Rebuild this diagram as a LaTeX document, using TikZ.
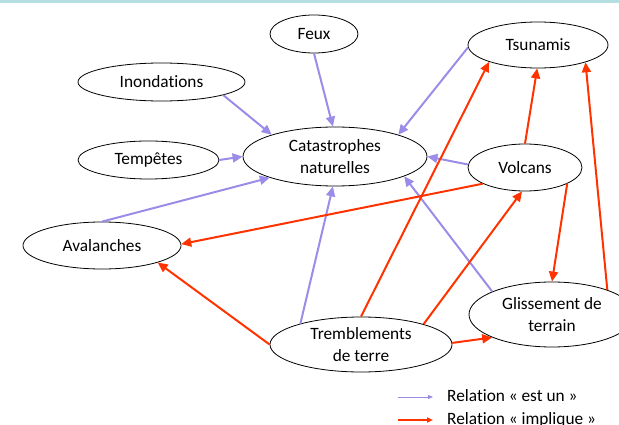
\documentclass[tikz,border=0pt]{standalone}
\usepackage{fontspec}
\setmainfont{Carlito}[Ligatures={NoCommon,NoContextual}]
\usetikzlibrary{shapes.geometric,arrows.meta}
\definecolor{isa}{HTML}{9B8CE8}
\definecolor{implies}{HTML}{FF3300}
\definecolor{band}{HTML}{B5DEE2}
\begin{document}
\begin{tikzpicture}[x=1pt,y=-1pt,
  concept/.style={ellipse,draw=black,line width=0.8pt,fill=white,inner sep=0pt,
    align=center,font=\fontsize{17.3}{21.5}\selectfont},
  isalink/.style={draw=isa,line width=2pt,-{Triangle[length=10pt,width=9pt]}},
  implink/.style={draw=implies,line width=2pt,-{Triangle[length=10pt,width=9pt]}},
  legendtext/.style={anchor=base west,inner sep=0pt,font=\fontsize{17.3}{21.5}\selectfont},
]
\useasboundingbox (0,0) rectangle (619,425);
\fill[band] (0,0) rectangle (619,3);

% concepts
\node[concept,minimum width=88pt,minimum height=38pt]  (feux) at (314,34)    {Feux};
\node[concept,minimum width=140pt,minimum height=46pt] (tsu)  at (538,45)    {Tsunamis};
\node[concept,minimum width=167pt,minimum height=38pt] (ino)  at (161.5,82)  {Inondations};
\node[concept,minimum width=141pt,minimum height=38pt] (tem)  at (148.5,160) {Tempêtes};
\node[concept,minimum width=184pt,minimum height=59pt] (cat)  at (335,156.5) {Catastrophes\\naturelles};
\node[concept,minimum width=114pt,minimum height=47pt] (vol)  at (525,167.5) {Volcans};
\node[concept,minimum width=158pt,minimum height=47pt] (ava)  at (102,245.5) {Avalanches};
\node[concept,minimum width=182pt,minimum height=55pt] (tre)  at (361,344.5) {Tremblements\\de terre};
\node[concept,minimum width=166pt,minimum height=65pt] (gli)  at (552,314.5) {Glissement de\\terrain};

% "est un" relations
\draw[isalink] (ino.-12.5) -- (cat.161);
\draw[isalink] (feux.-90) -- (cat.94);
\draw[isalink] (tsu.182) -- (cat.19);
\draw[isalink] (tem.east) -- (cat.west);
\draw[isalink] (vol.177) -- (cat.0);
\draw[isalink] (ava.90) -- (cat.198);
\draw[isalink] (tre.161) -- (cat.266);
\draw[isalink] (gli.159) -- (cat.-16);

% "implique" relations
\draw[implink] (tre.90) -- (tsu.199);
\draw[implink] (vol.90) -- (tsu.268);
\draw[implink] (gli.24) -- (tsu.-20);
\draw[implink] (vol.201) -- (ava.1);
\draw[implink] (tre.180) -- (ava.-17);
\draw[implink] (tre.18) -- (vol.263);
\draw[implink] (vol.-21) -- (gli.90);
\draw[implink] (tre.1) -- (gli.201);

% legend
\coordinate (isaA) at (398,397);
\coordinate (isaB) at (433,397);
\coordinate (impA) at (398,420);
\coordinate (impB) at (433,420);
\draw[draw=isa,line width=1pt,-{Triangle[length=5pt,width=4pt]}] (isaA) -- (isaB);
\draw[draw=implies,line width=1.6pt,-{Triangle[length=6pt,width=5pt]}] (impA) -- (impB);
\node[legendtext] (isaT) at (447,401) {Relation « est un »};
\node[legendtext] (impT) at (447,424) {Relation « implique »};
\end{tikzpicture}
\end{document}
